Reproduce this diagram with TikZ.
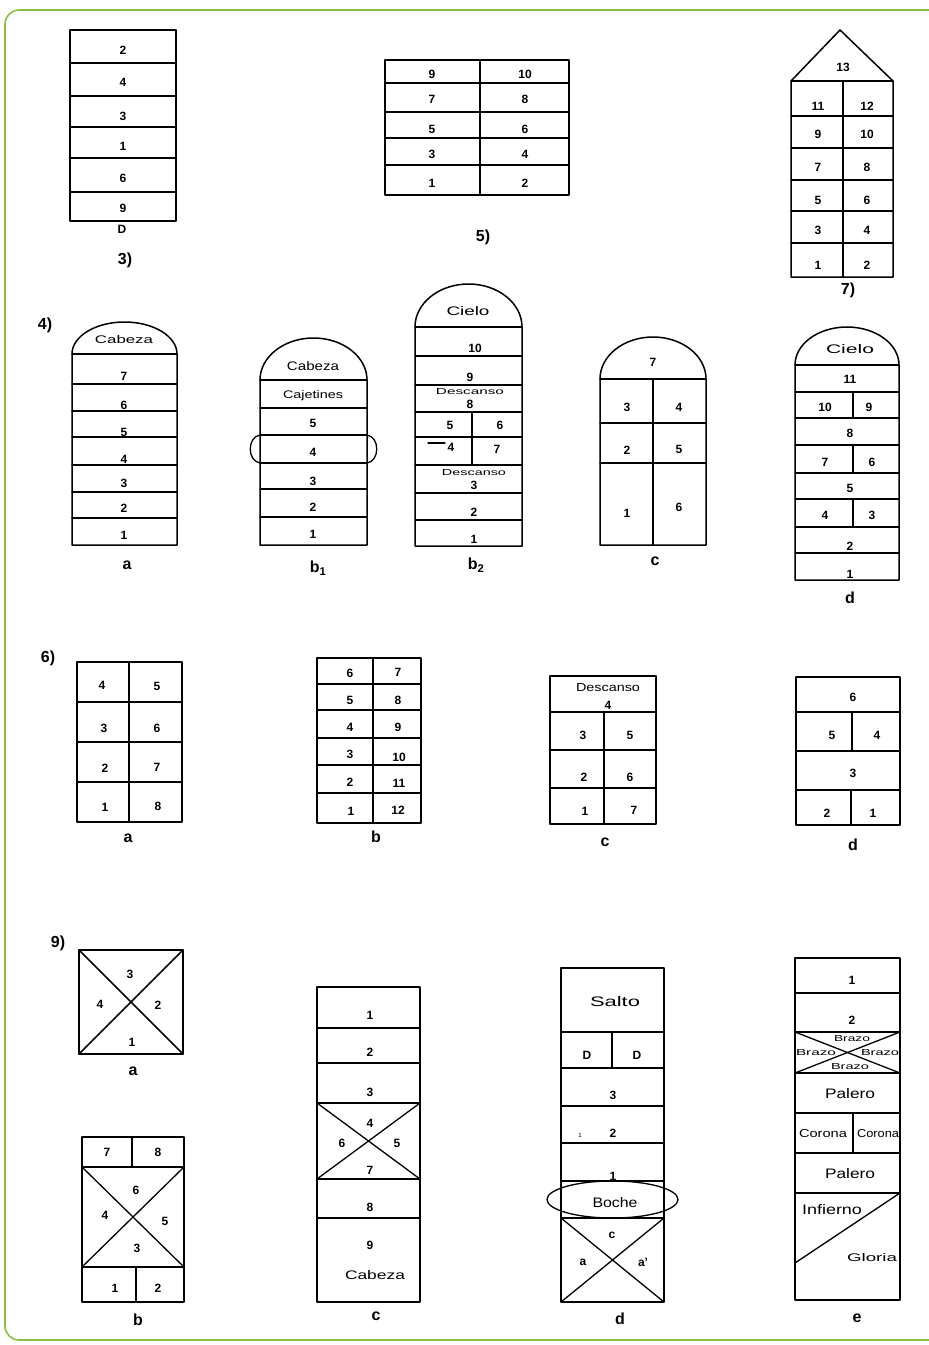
\documentclass[tikz,border=0pt]{standalone}
\usepackage{fontspec}
\setmainfont{Liberation Sans}
\definecolor{framegreen}{RGB}{141,190,64}
\newcommand\hw[3]{\resizebox{#1pt}{#2pt}{#3}}
\begin{document}
\begin{tikzpicture}[x=1pt,y=-1pt,line join=round,line cap=round,
  ln/.style={line width=1.3pt},
  bx/.style={draw,line width=1.5pt},
  dg/.style={font=\fontsize{12}{12}\selectfont\bfseries,inner sep=0pt},
  wd/.style={font=\fontsize{10}{10}\selectfont,inner sep=0pt},
  cp/.style={font=\fontsize{16}{16}\selectfont\bfseries,inner sep=0pt},
  frame/.style={draw=framegreen,line width=1.6pt,rounded corners=14pt}]
\useasboundingbox (0,0) rectangle (929,1345);
\draw[frame] (5,10) rectangle (960,1340);

% ---------- figure 3
\draw[bx] (70,30) rectangle (176,221);
\foreach \y in {63,96,127,158,192}{\draw[ln] (70,\y)--(176,\y);}
\node[dg] (f3a) at (123,50) {2};
\node[dg] (f3b) at (123,82) {4};
\node[dg] (f3c) at (123,116) {3};
\node[dg] (f3d) at (123,146) {1};
\node[dg] (f3e) at (123,178) {6};
\node[dg] (f3f) at (123,208) {9};
\node[dg] (f3g) at (122,229) {D};
\node[cp] (f3l) at (125,260) {3)};

% ---------- figure 5
\draw[bx] (385,60) rectangle (569,195);
\draw[ln] (480,60)--(480,195);
\foreach \y in {83,112,138,165}{\draw[ln] (385,\y)--(569,\y);}
\node[dg] (f5a) at (432,74) {9};  \node[dg] (f5b) at (525,74) {10};
\node[dg] (f5c) at (432,99) {7};  \node[dg] (f5d) at (525,99) {8};
\node[dg] (f5e) at (432,129) {5}; \node[dg] (f5f) at (525,129) {6};
\node[dg] (f5g) at (432,154) {3}; \node[dg] (f5h) at (525,154) {4};
\node[dg] (f5i) at (432,183) {1}; \node[dg] (f5j) at (525,183) {2};
\node[cp] (f5l) at (483,237) {5)};

% ---------- figure 7
\draw[bx] (791,81)--(840,30)--(893,81)--(893,277)--(791,277)--cycle;
\draw[ln] (791,81)--(893,81);
\draw[ln] (843,81)--(843,277);
\foreach \y in {116,148,180,211,243}{\draw[ln] (791,\y)--(893,\y);}
\node[dg] (f7t) at (843,67) {13};
\node[dg] (f7a) at (818,106) {11}; \node[dg] (f7b) at (867,106) {12};
\node[dg] (f7c) at (818,134) {9};  \node[dg] (f7d) at (867,134) {10};
\node[dg] (f7e) at (818,167) {7};  \node[dg] (f7f) at (867,167) {8};
\node[dg] (f7g) at (818,200) {5};  \node[dg] (f7h) at (867,200) {6};
\node[dg] (f7i) at (818,230) {3};  \node[dg] (f7j) at (867,230) {4};
\node[dg] (f7k) at (818,265) {1};  \node[dg] (f7m) at (867,265) {2};
\node[cp] (f7l) at (848,290) {7)};

% ---------- figure 4
\node[cp] (f4l) at (45,325) {4)};
% 4a
\draw[bx] (72,545)--(72,354) arc[start angle=180,end angle=0,x radius=52.5pt,y radius=32pt]--(177,545)--cycle;
\foreach \y in {354,384,411,437,465,492,518}{\draw[ln] (72,\y)--(177,\y);}
\node[wd] (f4ah) at (124,340) {\hw{58}{8}{Cabeza}};
\node[dg] (f4a7) at (124,376) {7};
\node[dg] (f4a6) at (124,405) {6};
\node[dg] (f4a5) at (124,432) {5};
\node[dg] (f4a4) at (124,459) {4};
\node[dg] (f4a3) at (124,483) {3};
\node[dg] (f4a2) at (124,508) {2};
\node[dg] (f4a1) at (124,535) {1};
\node[cp] (f4al) at (127,565) {a};
% 4b1
\draw[bx] (260,545)--(260,380) arc[start angle=180,end angle=0,x radius=53.5pt,y radius=42pt]--(367,545)--cycle;
\foreach \y in {380,408,435,463,489,517}{\draw[ln] (260,\y)--(367,\y);}
\draw[ln] (260,435) .. controls (247,437) and (247,461) .. (260,463);
\draw[ln] (367,435) .. controls (380,437) and (380,461) .. (367,463);
\node[wd] (f4bh) at (313,366) {\hw{52}{9}{Cabeza}};
\node[wd] (f4bc) at (313,396) {\hw{60}{8}{Cajetines}};
\node[dg] (f4b5) at (313,423) {5};
\node[dg] (f4b4) at (313,452) {4};
\node[dg] (f4b3) at (313,481) {3};
\node[dg] (f4b2) at (313,507) {2};
\node[dg] (f4b1) at (313,534) {1};
\node[cp] (f4bl) at (318,568) {b\textsubscript{1}};
% 4b2
\draw[bx] (415,546)--(415,327) arc[start angle=180,end angle=0,x radius=53.5pt,y radius=43pt]--(522,546)--cycle;
\foreach \y in {327,356,385,412,437,465,493,520}{\draw[ln] (415,\y)--(522,\y);}
\draw[ln] (472,412)--(472,437);
\draw[bx] (472,437)--(472,465);
\draw[ln] (428,443)--(445,443);
\node[wd] (f4ch) at (468,311) {\hw{43}{9}{Cielo}};
\node[dg] (f4c10) at (475,348) {10};
\node[dg] (f4c9) at (470,377) {9};
\node[wd] (f4cd1) at (470,392) {\hw{68}{6}{Descanso}};
\node[dg] (f4c8) at (470,404) {8};
\node[dg] (f4c5) at (450,425) {5};
\node[dg] (f4c6) at (500,425) {6};
\node[dg] (f4c4) at (451,447) {4};
\node[dg] (f4c7) at (497,449) {7};
\node[wd] (f4cd2) at (474,473) {\hw{64}{6}{Descanso}};
\node[dg] (f4c3) at (474,485) {3};
\node[dg] (f4c2) at (474,512) {2};
\node[dg] (f4c1) at (474,539) {1};
\node[cp] (f4cl) at (476,565) {b\textsubscript{2}};
% 4c
\draw[bx] (600,545)--(600,379) arc[start angle=180,end angle=0,x radius=53pt,y radius=42pt]--(706,545)--cycle;
\draw[ln] (600,379)--(706,379);
\draw[ln] (600,423)--(706,423);
\draw[ln] (600,463)--(706,463);
\draw[bx] (653,379)--(653,545);
\node[dg] (f4d7) at (653,362) {7};
\node[dg] (f4d3) at (627,407) {3}; \node[dg] (f4d4) at (679,407) {4};
\node[dg] (f4d2) at (627,450) {2}; \node[dg] (f4d5) at (679,449) {5};
\node[dg] (f4d1) at (627,513) {1}; \node[dg] (f4d6) at (679,507) {6};
\node[cp] (f4dl) at (655,561) {c};
% 4d
\draw[bx] (795,580)--(795,365) arc[start angle=180,end angle=0,x radius=52pt,y radius=38pt]--(899,580)--cycle;
\foreach \y in {365,392,418,445,473,499,527,553}{\draw[ln] (795,\y)--(899,\y);}
\draw[ln] (853,392)--(853,418);
\draw[ln] (853,445)--(853,473);
\draw[ln] (853,499)--(853,527);
\node[wd] (f4eh) at (850,349) {\hw{48}{9}{Cielo}};
\node[dg] (f4e11) at (850,379) {11};
\node[dg] (f4e10) at (825,407) {10}; \node[dg] (f4e9) at (869,407) {9};
\node[dg] (f4e8) at (850,433) {8};
\node[dg] (f4e7) at (825,462) {7}; \node[dg] (f4e6) at (872,462) {6};
\node[dg] (f4e5) at (850,488) {5};
\node[dg] (f4e4) at (825,515) {4}; \node[dg] (f4e3) at (872,515) {3};
\node[dg] (f4e2) at (850,546) {2};
\node[dg] (f4e1) at (850,574) {1};
\node[cp] (f4el) at (850,598) {d};

% ---------- figure 6
\node[cp] (f6l) at (48,658) {6)};
% 6a
\draw[bx] (77,662) rectangle (182,822);
\draw[ln] (129,662)--(129,822);
\foreach \y in {702,742,782}{\draw[ln] (77,\y)--(182,\y);}
\node[dg] (f6a4) at (102,685) {4}; \node[dg] (f6a5) at (157,686) {5};
\node[dg] (f6a3) at (104,728) {3}; \node[dg] (f6a6) at (157,728) {6};
\node[dg] (f6a2) at (105,768) {2}; \node[dg] (f6a7) at (157,767) {7};
\node[dg] (f6a1) at (105,807) {1}; \node[dg] (f6a8) at (158,806) {8};
\node[cp] (f6al) at (128,838) {a};
% 6b
\draw[bx] (317,658) rectangle (421,823);
\draw[ln] (373,658)--(373,823);
\foreach \y in {684,710,738,765,793}{\draw[ln] (317,\y)--(421,\y);}
\node[dg] (f6b6) at (350,673) {6}; \node[dg] (f6b7) at (398,672) {7};
\node[dg] (f6b5) at (350,700) {5}; \node[dg] (f6b8) at (398,700) {8};
\node[dg] (f6b4) at (350,727) {4}; \node[dg] (f6b9) at (398,727) {9};
\node[dg] (f6b3) at (350,754) {3}; \node[dg] (f6b10) at (399,757) {10};
\node[dg] (f6b2) at (350,782) {2}; \node[dg] (f6b11) at (399,783) {11};
\node[dg] (f6b1) at (351,811) {1}; \node[dg] (f6b12) at (398,810) {12};
\node[cp] (f6bl) at (376,837) {b};
% 6c
\draw[bx] (550,676) rectangle (656,824);
\draw[ln] (604,712)--(604,824);
\foreach \y in {712,750,788}{\draw[ln] (550,\y)--(656,\y);}
\node[wd] (f6cd) at (608,688) {\hw{64}{8}{Descanso}};
\node[dg] (f6c4) at (608,705) {4};
\node[dg] (f6c3) at (583,735) {3}; \node[dg] (f6c5) at (630,735) {5};
\node[dg] (f6c2) at (584,777) {2}; \node[dg] (f6c6) at (630,777) {6};
\node[dg] (f6c1) at (585,811) {1}; \node[dg] (f6c7) at (634,810) {7};
\node[cp] (f6cl) at (605,842) {c};
% 6d
\draw[bx] (796,677) rectangle (900,825);
\foreach \y in {712,751,790}{\draw[ln] (796,\y)--(900,\y);}
\draw[bx] (852,712)--(852,751);
\draw[bx] (851,790)--(851,825);
\node[dg] (f6d6) at (853,697) {6};
\node[dg] (f6d5) at (832,735) {5}; \node[dg] (f6d4) at (877,735) {4};
\node[dg] (f6d3) at (853,773) {3};
\node[dg] (f6d2) at (827,813) {2}; \node[dg] (f6d1) at (873,813) {1};
\node[cp] (f6dl) at (853,845) {d};

% ---------- figure 9
\node[cp] (f9l) at (58,943) {9)};
% 9a
\draw[bx] (79,950) rectangle (183,1054);
\draw[bx] (79,950)--(183,1054);
\draw[bx] (183,950)--(79,1054);
\node[dg] (f9a3) at (130,974) {3};
\node[dg] (f9a4) at (100,1004) {4};
\node[dg] (f9a2) at (158,1005) {2};
\node[dg] (f9a1) at (132,1042) {1};
\node[cp] (f9al) at (133,1071) {a};
% 9b
\draw[bx] (82,1137) rectangle (184,1302);
\draw[bx] (82,1167)--(184,1167);
\draw[ln] (82,1267)--(184,1267);
\draw[ln] (132,1137)--(132,1167);
\draw[ln] (136,1267)--(136,1302);
\draw[ln] (82,1167)--(184,1267);
\draw[ln] (184,1167)--(82,1267);
\node[dg] (f9b7) at (107,1152) {7}; \node[dg] (f9b8) at (158,1152) {8};
\node[dg] (f9b6) at (136,1190) {6};
\node[dg] (f9b4) at (105,1215) {4};
\node[dg] (f9b5) at (165,1221) {5};
\node[dg] (f9b3) at (137,1248) {3};
\node[dg] (f9b1) at (115,1288) {1}; \node[dg] (f9b2) at (158,1288) {2};
\node[cp] (f9bl) at (138,1320) {b};
% 9c
\draw[bx] (317,987) rectangle (420,1302);
\foreach \y in {1028,1063,1103,1179,1218}{\draw[ln] (317,\y)--(420,\y);}
\draw[ln] (317,1103)--(420,1179);
\draw[ln] (420,1103)--(317,1179);
\node[dg] (f9c1) at (370,1015) {1};
\node[dg] (f9c2) at (370,1052) {2};
\node[dg] (f9c3) at (370,1092) {3};
\node[dg] (f9c4) at (370,1123) {4};
\node[dg] (f9c6) at (342,1143) {6};
\node[dg] (f9c5) at (397,1143) {5};
\node[dg] (f9c7) at (370,1170) {7};
\node[dg] (f9c8) at (370,1207) {8};
\node[dg] (f9c9) at (370,1245) {9};
\node[wd] (f9cc) at (375,1275) {\hw{60}{9}{Cabeza}};
\node[cp] (f9cl) at (376,1316) {c};
% 9d
\draw[bx] (561,968) rectangle (664,1302);
\foreach \y in {1032,1068,1106,1143,1181,1218}{\draw[ln] (561,\y)--(664,\y);}
\draw[bx] (612,1032)--(612,1068);
\draw[ln] (561,1218)--(664,1302);
\draw[ln] (664,1218)--(561,1302);
\draw[ln] (612.5,1199.5) ellipse [x radius=65.5pt,y radius=18.5pt];
\node[wd] (f9ds) at (615,1002) {\hw{50}{10}{Salto}};
\node[dg] (f9dd1) at (587,1055) {D}; \node[dg] (f9dd2) at (637,1055) {D};
\node[dg] (f9d3) at (613,1095) {3};
\node[dg,font=\fontsize{6}{6}\selectfont] (f9dx) at (580,1135) {1};
\node[dg] (f9d2) at (613,1133) {2};
\node[dg] (f9d1) at (613,1176) {1};
\node[wd] (f9db) at (615,1203) {\hw{45}{10}{Boche}};
\node[dg] (f9dc) at (612,1235) {c};
\node[dg] (f9da) at (583,1262) {a};
\node[dg] (f9db2) at (643,1262) {a'};
\node[cp] (f9dl) at (620,1319) {d};
% 9e
\draw[bx] (795,958) rectangle (900,1300);
\foreach \y in {993,1032,1073,1113,1153,1193}{\draw[ln] (795,\y)--(900,\y);}
\draw[ln] (853,1113)--(853,1153);
\draw[ln] (795,1032)--(900,1073);
\draw[ln] (900,1032)--(795,1073);
\draw[ln] (900,1193)--(795,1263);
\node[dg] (f9e1) at (852,980) {1};
\node[dg] (f9e2) at (852,1020) {2};
\node[wd] (f9et) at (852,1039) {\hw{36}{6}{Brazo}};
\node[wd] (f9el) at (816,1053) {\hw{40}{6}{Brazo}};
\node[wd] (f9er) at (880,1053) {\hw{38}{6}{Brazo}};
\node[wd] (f9eb) at (850,1067) {\hw{38}{6}{Brazo}};
\node[wd] (f9ep1) at (850,1094) {\hw{50}{10}{Palero}};
\node[wd] (f9ec1) at (823,1134) {\hw{48}{8}{Corona}};
\node[wd] (f9ec2) at (878,1134) {\hw{42}{8}{Corona}};
\node[wd] (f9ep2) at (850,1174) {\hw{50}{10}{Palero}};
\node[wd] (f9ei) at (832,1210) {\hw{60}{10}{Infierno}};
\node[wd] (f9eg) at (872,1258) {\hw{50}{8}{Gloria}};
\node[cp] (f9el2) at (857,1318) {e};
\end{tikzpicture}
\end{document}
